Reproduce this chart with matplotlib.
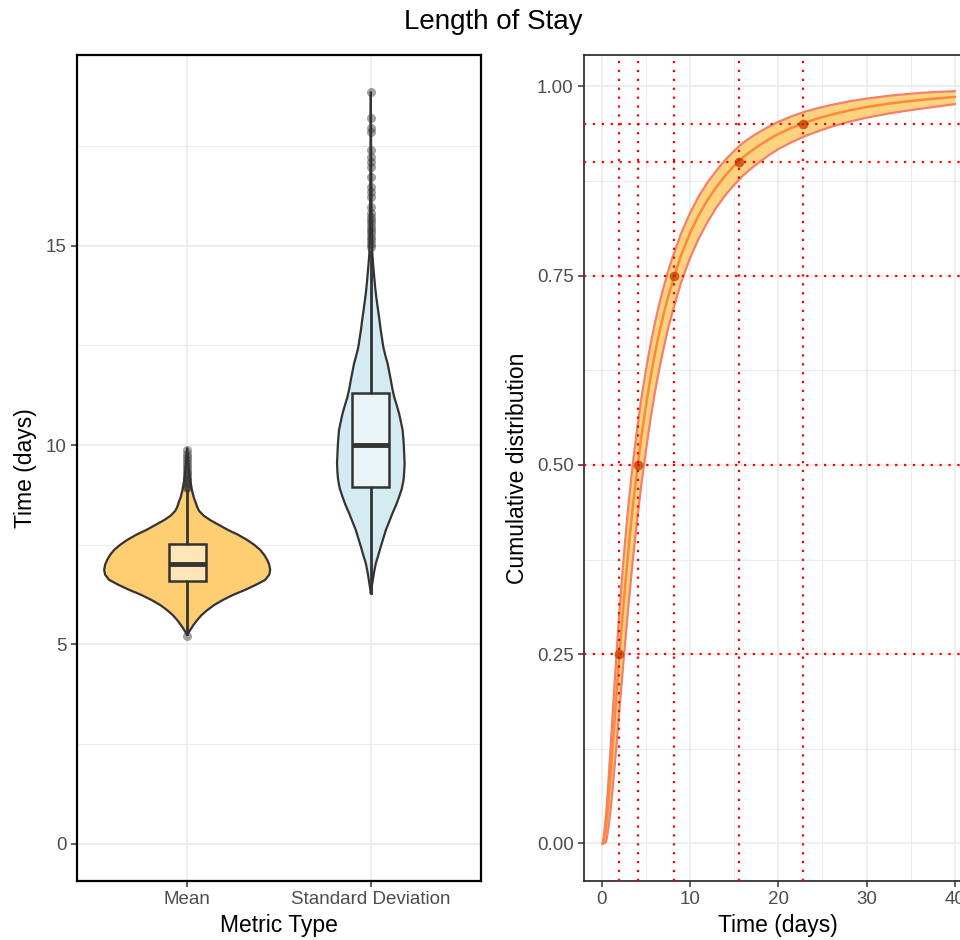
import numpy as np
import matplotlib.pyplot as plt

plt.rcParams['font.family'] = ['Liberation Sans', 'DejaVu Sans']

# ---- left panel: violin + boxplot data ----
categories = ['Mean', 'Standard Deviation']
violin_fill = ['#FFCD72', '#D4EBF2']

# violin outlines: y value and half width (x units)
mean_prof_y = [5.24, 5.30, 5.36, 5.48, 5.61, 5.74, 5.86, 5.99, 6.12, 6.25, 6.37,
               6.50, 6.62, 6.75, 6.87, 7.00, 7.12, 7.25, 7.37, 7.50, 7.62, 7.75,
               7.87, 8.00, 8.12, 8.23, 8.35, 8.45, 8.55, 8.70, 8.87, 9.10, 9.30,
               9.60, 9.92]
mean_prof_w = [0.0, 0.008, 0.016, 0.033, 0.054, 0.079, 0.109, 0.147, 0.196, 0.253,
               0.316, 0.376, 0.425, 0.447, 0.452, 0.447, 0.436, 0.419, 0.398, 0.365,
               0.327, 0.278, 0.223, 0.172, 0.125, 0.090, 0.065, 0.054, 0.047, 0.035,
               0.026, 0.017, 0.011, 0.005, 0.0]
sd_prof_y = [6.28, 6.45, 6.62, 6.82, 7.03, 7.24, 7.45, 7.66, 7.87, 8.08, 8.29,
             8.50, 8.70, 8.91, 9.12, 9.33, 9.54, 9.75, 9.96, 10.17, 10.38, 10.58,
             10.79, 11.00, 11.21, 11.42, 11.63, 11.84, 12.05, 12.25, 12.46, 12.67,
             12.88, 13.10, 13.30, 13.50, 13.70, 13.90, 14.14, 14.45, 14.80, 15.30,
             15.80, 17.00, 18.85]
sd_prof_w = [0.0, 0.005, 0.011, 0.018, 0.027, 0.041, 0.054, 0.068, 0.082, 0.100,
             0.118, 0.138, 0.154, 0.169, 0.178, 0.182, 0.184, 0.182, 0.180, 0.177,
             0.173, 0.164, 0.154, 0.141, 0.127, 0.117, 0.109, 0.100, 0.091, 0.079,
             0.068, 0.061, 0.054, 0.048, 0.042, 0.036, 0.030, 0.025, 0.020, 0.014,
             0.008, 0.006, 0.004, 0.002, 0.0]

# box stats: whisker low, q1, median, q3, whisker high
mean_box = [5.27, 6.59, 7.03, 7.51, 8.88]
sd_box = [6.30, 8.96, 10.00, 11.31, 14.84]
mean_outliers = [5.22, 8.92, 8.96, 9.00, 9.05, 9.10, 9.15, 9.20, 9.27, 9.33,
                 9.40, 9.48, 9.55, 9.62, 9.70, 9.78, 9.88]
sd_outliers = [14.97, 15.05, 15.14, 15.22, 15.31, 15.40, 15.47, 15.56, 15.64,
               15.72, 15.81, 15.97, 16.22, 16.35, 16.47, 16.73, 16.98, 17.10,
               17.23, 17.39, 17.85, 17.94, 18.20, 18.85]

# ---- right panel: cumulative distribution ----
cdf_x = [0.1, 0.25, 0.5, 0.75, 1, 1.25, 1.5, 1.75, 2, 2.5, 3, 3.5, 4, 4.5, 5,
         5.5, 6, 6.5, 7, 7.5, 8, 9, 10, 11, 12, 13, 14, 15, 16, 17, 18, 19, 20,
         21.5, 23, 24.5, 26, 28, 30, 32.5, 35, 37.5, 40]
cdf_mid = [0.0, 0.0036, 0.022, 0.0517, 0.088, 0.128, 0.168, 0.208, 0.247, 0.319,
           0.384, 0.442, 0.492, 0.5375, 0.577, 0.613, 0.645, 0.673, 0.698, 0.721,
           0.741, 0.777, 0.806, 0.830, 0.850, 0.867, 0.882, 0.8947, 0.906, 0.915,
           0.923, 0.9304, 0.937, 0.945, 0.952, 0.9576, 0.9625, 0.968, 0.9725,
           0.977, 0.9806, 0.9835, 0.9859]
cdf_band = [0.0, 0.008, 0.020, 0.033, 0.045, 0.055, 0.062, 0.068, 0.072, 0.075,
            0.074, 0.071, 0.067, 0.063, 0.059, 0.055, 0.051, 0.048, 0.045, 0.042,
            0.040, 0.036, 0.033, 0.031, 0.029, 0.027, 0.026, 0.025, 0.024, 0.023,
            0.022, 0.021, 0.020, 0.019, 0.018, 0.017, 0.016, 0.015, 0.014, 0.013,
            0.012, 0.011, 0.0095]
quant_p = [0.25, 0.50, 0.75, 0.90, 0.95]
quant_x = [2.0, 4.08, 8.22, 15.5, 22.8]

GRID = '#EBEBEB'
fig = plt.figure(figsize=(9.6, 9.4), dpi=100)
fig.text(493 / 960, 1 - 22 / 940, 'Length of Stay', ha='center', va='center',
         fontsize=20)

# ================= left panel =================
ax1 = fig.add_axes([77 / 960, 59 / 940, 404 / 960, 826 / 940])
ax1.set_xlim(0.4, 2.6)
ax1.set_ylim(-0.93, 19.78)
ax1.set_yticks([0, 5, 10, 15])
ax1.set_yticks([2.5, 7.5, 12.5, 17.5], minor=True)
ax1.set_xticks([1, 2])
ax1.set_xticklabels(categories)
ax1.grid(True, which='major', color=GRID, lw=1.2)
ax1.grid(True, which='minor', axis='y', color=GRID, lw=0.7)
ax1.set_axisbelow(True)

profiles = [(mean_prof_y, mean_prof_w), (sd_prof_y, sd_prof_w)]
boxes = [mean_box, sd_box]
outs = [mean_outliers, sd_outliers]
for i, ((py, pw), bx, ol) in enumerate(zip(profiles, boxes, outs)):
    c = i + 1
    py = np.array(py)
    pw = np.array(pw)
    xs = np.concatenate([c + pw, (c - pw)[::-1]])
    ys = np.concatenate([py, py[::-1]])
    ax1.fill(xs, ys, facecolor=violin_fill[i], edgecolor='#333333', lw=1.6,
             joinstyle='round', zorder=2)
    # whiskers
    ax1.plot([c, c], [bx[0], bx[1]], color='#333333', lw=2, zorder=3)
    ax1.plot([c, c], [bx[3], bx[4]], color='#333333', lw=2, zorder=3)
    # box
    ax1.add_patch(plt.Rectangle((c - 0.1, bx[1]), 0.2, bx[3] - bx[1],
                                facecolor=(1, 1, 1, 0.5), edgecolor='#333333',
                                lw=1.8, zorder=4))
    ax1.plot([c - 0.1, c + 0.1], [bx[2], bx[2]], color='#333333', lw=3.5,
             solid_capstyle='butt', zorder=5)
    ax1.plot([c] * len(ol), ol, 'o', color='#333333', alpha=0.45, ms=6.5,
             mec='none', zorder=5)

ax1.set_xlabel('Metric Type', fontsize=16.5, labelpad=4)
ax1.set_ylabel('Time (days)', fontsize=16.5, labelpad=6)
ax1.tick_params(labelsize=13.5, labelcolor='#4D4D4D', color='#333333',
                length=4, width=1.1)
ax1.tick_params(which='minor', length=0)
for s in ax1.spines.values():
    s.set_color('black')
    s.set_linewidth(1.6)

# ================= right panel =================
ax2 = fig.add_axes([584 / 960, 59 / 940, 388.5 / 960, 826 / 940])
ax2.set_xlim(-2, 42)
ax2.set_ylim(-0.0496, 1.0413)
ax2.set_xticks([0, 10, 20, 30, 40])
ax2.set_xticks([5, 15, 25, 35], minor=True)
ax2.set_yticks([0, 0.25, 0.5, 0.75, 1.0])
ax2.set_yticklabels(['0.00', '0.25', '0.50', '0.75', '1.00'])
ax2.set_yticks([0.125, 0.375, 0.625, 0.875], minor=True)
ax2.grid(True, which='major', color=GRID, lw=1.2)
ax2.grid(True, which='minor', color=GRID, lw=0.7)
ax2.set_axisbelow(True)

mid = np.array(cdf_mid)
band = np.array(cdf_band)
lo = np.clip(mid - band, 0, None)
hi = mid + band * 0.8
ax2.fill_between(cdf_x, lo, hi, color='#FFD27F', lw=0, zorder=2)
ax2.plot(cdf_x, lo, color='#F5806A', lw=1.6, zorder=3)
ax2.plot(cdf_x, hi, color='#F5806A', lw=1.6, zorder=3)
ax2.plot(cdf_x, mid, color='#FA8A3C', lw=1.8, zorder=3)
ax2.plot(quant_x, quant_p, 'o', color='#B84800', alpha=0.8, ms=7, mec='none',
         zorder=4)
for qx, qp in zip(quant_x, quant_p):
    ax2.axhline(qp, color='red', lw=1.6, ls=(0, (1, 3)), zorder=5)
    ax2.axvline(qx, color='red', lw=1.6, ls=(0, (1, 3)), zorder=5)

ax2.set_xlabel('Time (days)', fontsize=16.5, labelpad=4)
ax2.set_ylabel('Cumulative distribution', fontsize=16.5, labelpad=6)
ax2.tick_params(labelsize=13.5, labelcolor='#4D4D4D', color='#333333',
                length=4, width=1.1)
ax2.tick_params(which='minor', length=0)
for s in ax2.spines.values():
    s.set_color('#333333')
    s.set_linewidth(1.3)

fig.savefig('out.png', dpi=100)
